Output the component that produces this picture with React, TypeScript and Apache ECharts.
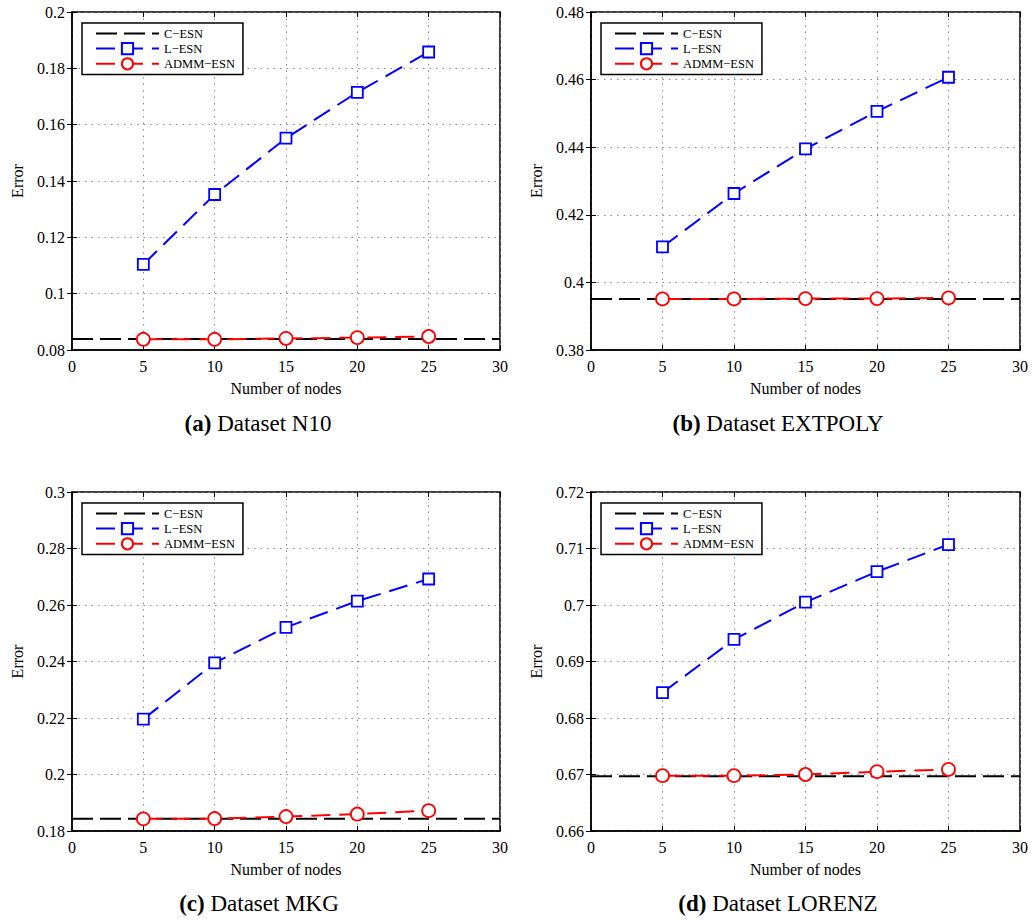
import React, { useEffect, useRef } from 'react';
import * as echarts from 'echarts';

// ---- data ----
const nodes = [5, 10, 15, 20, 25];
const seriesNames = ['C−ESN', 'L−ESN', 'ADMM−ESN'];

const n10L = [0.1104, 0.1352, 0.1552, 0.1715, 0.1858];
const n10A = [0.0838, 0.0838, 0.0841, 0.0844, 0.0848];
const n10C = 0.0839;

const extpolyL = [0.4105, 0.4263, 0.4395, 0.4506, 0.4607];
const extpolyA = [0.3951, 0.3951, 0.3952, 0.3952, 0.3954];
const extpolyC = 0.3951;

const mkgL = [0.2196, 0.2395, 0.2521, 0.2614, 0.2692];
const mkgA = [0.1843, 0.1844, 0.1851, 0.1860, 0.1872];
const mkgC = 0.1843;

const lorenzL = [0.6845, 0.6939, 0.7005, 0.7059, 0.7107];
const lorenzA = [0.6698, 0.6698, 0.6700, 0.6705, 0.6709];
const lorenzC = 0.6697;

const captionTags = ['(a)', '(b)', '(c)', '(d)'];
const captionNames = ['Dataset N10', 'Dataset EXTPOLY', 'Dataset MKG', 'Dataset LORENZ'];
const yMins = [0.08, 0.38, 0.18, 0.66];
const yMaxs = [0.2, 0.48, 0.3, 0.72];
const yIntervals = [0.02, 0.02, 0.02, 0.01];
const xMin = 0;
const xMax = 30;
const xInterval = 5;

const panels = [
  { L: n10L, A: n10A, C: n10C },
  { L: extpolyL, A: extpolyA, C: extpolyC },
  { L: mkgL, A: mkgA, C: mkgC },
  { L: lorenzL, A: lorenzA, C: lorenzC },
];

// ---- layout ----
const grids = [
  { left: 72, top: 12, width: 428, height: 338 },
  { left: 591, top: 12, width: 429, height: 338 },
  { left: 72, top: 492, width: 428, height: 339 },
  { left: 591, top: 492, width: 429, height: 339 },
];
const captionPos = [
  { x: 258, y: 423 },
  { x: 778, y: 423 },
  { x: 259, y: 903 },
  { x: 778, y: 903 },
];

const FONT = '"Liberation Serif", "Times New Roman", serif';

export default function App() {
  const ref = useRef<HTMLDivElement>(null);
  useEffect(() => {
    if (!ref.current) return;
    const chart = echarts.init(ref.current, undefined, { renderer: 'svg' });

    const xAxis: any[] = [];
    const yAxis: any[] = [];
    const series: any[] = [];
    const legend: any[] = [];
    const graphic: any[] = [];

    grids.forEach((g, i) => {
      const tickStyle = { show: true, inside: true, length: 5, lineStyle: { color: '#000', width: 1 } };
      xAxis.push({
        type: 'value', gridIndex: i, min: xMin, max: xMax, interval: xInterval,
        name: 'Number of nodes', nameLocation: 'middle', nameGap: 30,
        nameTextStyle: { fontFamily: FONT, fontSize: 16, color: '#000' },
        axisLine: { show: true, lineStyle: { color: '#000', width: 1.5 } },
        axisTick: tickStyle,
        axisLabel: { fontFamily: FONT, fontSize: 16, color: '#000', margin: 8 },
        splitLine: { show: true, lineStyle: { color: '#888', width: 1, type: [1.5, 5] } },
      });
      xAxis.push({
        type: 'value', gridIndex: i, position: 'top', min: xMin, max: xMax, interval: xInterval,
        axisLine: { show: false }, axisTick: tickStyle, axisLabel: { show: false }, splitLine: { show: false },
      });
      yAxis.push({
        type: 'value', gridIndex: i, min: yMins[i], max: yMaxs[i], interval: yIntervals[i],
        name: 'Error', nameLocation: 'middle', nameGap: 47,
        nameTextStyle: { fontFamily: FONT, fontSize: 16, color: '#000' },
        axisLine: { show: true, lineStyle: { color: '#000', width: 1.5 } },
        axisTick: tickStyle,
        axisLabel: { fontFamily: FONT, fontSize: 16, color: '#000', margin: 7 },
        splitLine: { show: true, lineStyle: { color: '#888', width: 1, type: [1.5, 5] } },
      });
      yAxis.push({
        type: 'value', gridIndex: i, position: 'right', min: yMins[i], max: yMaxs[i], interval: yIntervals[i],
        axisLine: { show: false }, axisTick: tickStyle, axisLabel: { show: false }, splitLine: { show: false },
      });

      const p = panels[i];
      series.push({
        name: seriesNames[0], type: 'line', xAxisIndex: 2 * i, yAxisIndex: 2 * i,
        data: [[xMin, p.C], [xMax, p.C]], symbol: 'none',
        lineStyle: { color: '#000', width: 2, type: [21, 7] },
        itemStyle: { color: '#000' }, z: 2,
      });
      series.push({
        name: seriesNames[1], type: 'line', xAxisIndex: 2 * i, yAxisIndex: 2 * i,
        data: nodes.map((n, k) => [n, p.L[k]]), symbol: 'rect', symbolSize: 11,
        lineStyle: { color: '#0000ff', width: 2, type: [19, 9] },
        itemStyle: { color: '#fff', borderColor: '#0000ff', borderWidth: 1.8 }, z: 3,
      });
      series.push({
        name: seriesNames[2], type: 'line', xAxisIndex: 2 * i, yAxisIndex: 2 * i,
        data: nodes.map((n, k) => [n, p.A[k]]), symbol: 'circle', symbolSize: 13,
        lineStyle: { color: '#ff0000', width: 2, type: [19, 9] },
        itemStyle: { color: '#fff', borderColor: '#ff0000', borderWidth: 1.8 }, z: 4,
      });

      legend.push({
        data: [
          { name: seriesNames[0], itemStyle: { opacity: 0 } },
          { name: seriesNames[1] },
          { name: seriesNames[2] },
        ],
        orient: 'vertical', left: g.left + 10, top: g.top + 11,
        padding: [4, 8, 4, 13], itemWidth: 63, itemHeight: 14, itemGap: 2,
        borderColor: '#000', borderWidth: 1.5, backgroundColor: '#fff', borderRadius: 0,
        textStyle: { fontFamily: FONT, fontSize: 12.5, color: '#000' },
        selectedMode: false,
      });

      const c = captionPos[i];
      graphic.push({
        type: 'text', x: c.x, y: c.y,
        style: {
          text: `{b|${captionTags[i]}} ${captionNames[i]}`,
          fontFamily: FONT, fontSize: 23, fill: '#000',
          align: 'center', verticalAlign: 'middle', textAlign: 'center', textVerticalAlign: 'middle',
          rich: { b: { fontFamily: FONT, fontSize: 23, fontWeight: 'bold', fill: '#000' } },
        },
      });
    });

    chart.setOption({
      animation: false,
      backgroundColor: '#fff',
      grid: grids.map((g) => ({ ...g, show: true, borderColor: '#000', borderWidth: 1.5, backgroundColor: 'transparent' })),
      xAxis, yAxis, series, legend, graphic,
    });
    return () => chart.dispose();
  }, []);
  return <div ref={ref} style={{ position: 'fixed', left: 0, top: 0, width: 1033, height: 920 }} />;
}
